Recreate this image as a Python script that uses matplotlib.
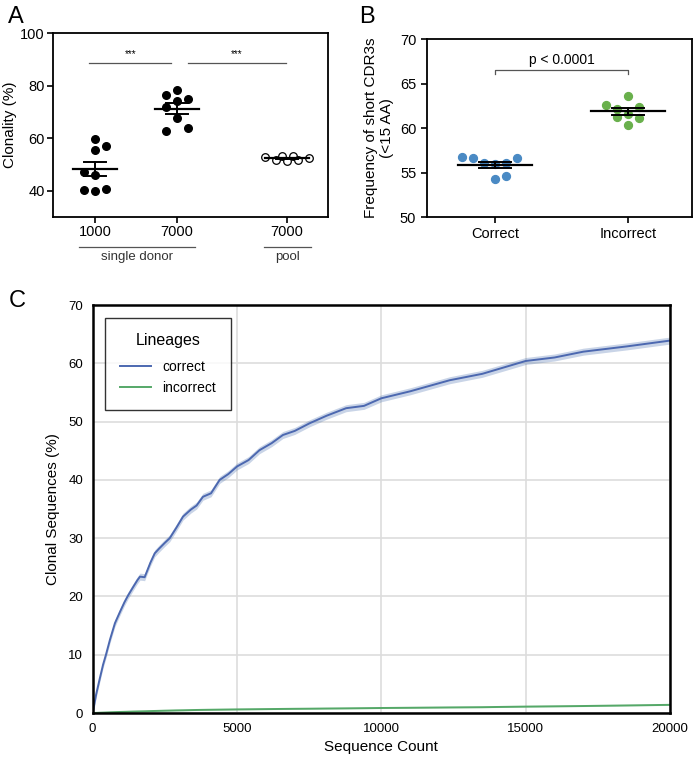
"""
Clonality panels (A, B) and lineage saturation curve (C)
"""
import matplotlib
matplotlib.use('Agg')
import matplotlib.pyplot as plt
import numpy as np

plt.rcParams['font.family'] = ['Liberation Sans', 'DejaVu Sans']

# ---- Panel A data: clonality (%) ----
a_tick_labels = ['1000', '7000', '7000']
a_single_1000 = [59.8, 55.6, 56.9, 47.1, 45.9, 40.4, 40.0, 40.6]
a_single_7000 = [76.4, 78.3, 75.1, 71.7, 74.2, 67.8, 62.7, 64.0]
a_pool_7000 = [52.8, 51.6, 53.1, 51.3, 53.2, 51.7, 52.6]
a_sem = [2.8, 2.0, 0.3]

# ---- Panel B data: frequency of short CDR3s ----
b_categories = ['Correct', 'Incorrect']
b_correct = [56.7, 56.6, 56.1, 56.0, 56.1, 56.6, 54.3, 54.6]
b_incorrect = [62.6, 62.2, 63.6, 62.4, 61.2, 61.6, 61.1, 60.3]
b_sem = [0.35, 0.38]

# ---- Panel C data: clonal sequences (%) vs sequence count ----
c_count = [0, 120, 250, 360, 460, 600, 770, 950, 1100, 1230, 1400, 1550, 1640,
           1800, 2000, 2150, 2300, 2500, 2670, 2900, 3130, 3400, 3600, 3820,
           4100, 4400, 4700, 5000, 5400, 5780, 6200, 6590, 7000, 7510, 8100,
           8780, 9400, 10000, 11000, 12370, 13500, 15000, 16000, 17000, 18500,
           20000]
c_correct = [0.0, 3.2, 6.0, 8.3, 10.0, 12.6, 15.4, 17.4, 19.0, 20.2, 21.6, 22.8,
             23.4, 23.3, 25.8, 27.4, 28.2, 29.2, 30.0, 31.8, 33.7, 34.9, 35.6,
             37.1, 37.7, 40.0, 41.0, 42.3, 43.4, 45.1, 46.3, 47.7, 48.4, 49.7,
             51.0, 52.3, 52.7, 54.0, 55.2, 57.1, 58.2, 60.4, 61.0, 62.0, 62.9,
             63.9]
c_incorrect = [0.0, 0.02, 0.05, 0.07, 0.09, 0.12, 0.15, 0.18, 0.2, 0.22, 0.25,
               0.27, 0.28, 0.3, 0.33, 0.35, 0.37, 0.4, 0.42, 0.45, 0.47, 0.5,
               0.52, 0.54, 0.56, 0.58, 0.6, 0.62, 0.64, 0.66, 0.68, 0.7, 0.72,
               0.74, 0.77, 0.8, 0.83, 0.86, 0.9, 0.96, 1.0, 1.1, 1.15, 1.2,
               1.3, 1.4]
c_band = 0.6

fig = plt.figure(figsize=(7, 7.59), dpi=100)

# ---------------- Panel A ----------------
axA = fig.add_axes([0.0757, 0.714, 0.393, 0.2424])
a_pos = [0, 1, 2.34]
a_groups = [a_single_1000, a_single_7000, a_pool_7000]
a_offsets = [
    [0, 0, 0.134, -0.134, 0, -0.134, 0, 0.134],
    [-0.134, 0, 0.134, -0.134, 0, 0, -0.134, 0.134],
    [-0.268, -0.134, -0.067, 0, 0.067, 0.134, 0.268],
]
for i, (pos, vals, offs) in enumerate(zip(a_pos, a_groups, a_offsets)):
    xs = np.array(offs) + pos
    if i < 2:
        axA.scatter(xs, vals, s=30, color='black', zorder=3)
    else:
        axA.scatter(xs, vals, s=30, facecolor='white', edgecolor='black',
                    linewidth=0.9, zorder=3)
    m = np.mean(vals)
    axA.plot([pos - 0.27, pos + 0.27], [m, m], color='black', lw=1.6, zorder=4)
    for e in (m - a_sem[i], m + a_sem[i]):
        axA.plot([pos - 0.13, pos + 0.13], [e, e], color='black', lw=1.4, zorder=4)
    axA.plot([pos, pos], [m - a_sem[i], m + a_sem[i]], color='black', lw=1.4, zorder=4)

# significance lines
axA.plot([-0.07, 0.93], [88.8, 88.8], color='#555555', lw=0.9)
axA.plot([1.13, 2.33], [88.8, 88.8], color='#555555', lw=0.9)
axA.text(0.43, 90.0, '***', ha='center', va='bottom', fontsize=7)
axA.text(1.73, 90.0, '***', ha='center', va='bottom', fontsize=7)

axA.set_xlim(-0.512, 2.84)
axA.set_ylim(30, 100)
axA.set_yticks([40, 60, 80, 100])
axA.set_xticks(a_pos)
axA.set_xticklabels(a_tick_labels)
axA.set_ylabel('Clonality (%)', fontsize=11, labelpad=2)
axA.tick_params(labelsize=10.5, width=1.2, length=4, pad=2)
for sp in axA.spines.values():
    sp.set_linewidth(1.3)

# group labels beneath the axis
axA.plot([-0.2, 1.22], [18.6, 18.6], color='#555555', lw=0.9, clip_on=False)
axA.text(0.51, 17.0, 'single donor', ha='center', va='top', fontsize=9.5,
         color='#333333')
axA.plot([2.06, 2.63], [18.6, 18.6], color='#555555', lw=0.9, clip_on=False)
axA.text(2.34, 17.0, 'pool', ha='center', va='top', fontsize=9.5, color='#333333')

# ---------------- Panel B ----------------
axB = fig.add_axes([0.6096, 0.714, 0.3786, 0.2345])
b_groups = [b_correct, b_incorrect]
b_colors = ['#4a8ac4', '#69b04c']
b_offsets = [
    [-0.248, -0.165, -0.083, 0, 0.083, 0.165, 0, 0.083],
    [-0.165, -0.083, 0, 0.083, -0.083, 0, 0.083, 0],
]
for i, (vals, offs, col) in enumerate(zip(b_groups, b_offsets, b_colors)):
    xs = np.array(offs) + i
    axB.scatter(xs, vals, s=32, color=col, zorder=3)
    m = np.mean(vals)
    axB.plot([i - 0.28, i + 0.28], [m, m], color='black', lw=1.6, zorder=4)
    for e in (m - b_sem[i], m + b_sem[i]):
        axB.plot([i - 0.12, i + 0.12], [e, e], color='black', lw=1.4, zorder=4)
    axB.plot([i, i], [m - b_sem[i], m + b_sem[i]], color='black', lw=1.4, zorder=4)

axB.plot([0, 0, 1, 1], [66.1, 66.5, 66.5, 66.1], color='#555555', lw=0.9)
axB.text(0.5, 66.9, 'p < 0.0001', ha='center', va='bottom', fontsize=10)

axB.set_xlim(-0.513, 1.48)
axB.set_ylim(50, 70)
axB.set_yticks([50, 55, 60, 65, 70])
axB.set_xticks([0, 1])
axB.set_xticklabels(b_categories)
axB.set_ylabel('Frequency of short CDR3s\n(<15 AA)', fontsize=11)
axB.tick_params(labelsize=10.5, width=1.2, length=4)
for sp in axB.spines.values():
    sp.set_linewidth(1.3)

# ---------------- Panel C ----------------
axC = fig.add_axes([0.1324, 0.0606, 0.8247, 0.5375])
cx = np.array(c_count)
cy = np.array(c_correct)
axC.fill_between(cx, cy - c_band, cy + c_band, color='#4c72b0', alpha=0.3, lw=0)
axC.plot(cx, cy, color='#4c68b0', lw=1.4, label='correct')
gy = np.array(c_incorrect)
axC.fill_between(cx, gy - 0.1, gy + 0.1, color='#55a868', alpha=0.3, lw=0)
axC.plot(cx, gy, color='#55a868', lw=1.4, label='incorrect')

axC.set_xlim(0, 20000)
axC.set_ylim(0, 70)
axC.set_xticks([0, 5000, 10000, 15000, 20000])
axC.set_yticks(range(0, 71, 10))
axC.grid(True, color='#dddddd', lw=1.2)
axC.set_axisbelow(True)
axC.tick_params(length=0, labelsize=9.5, pad=7)
for sp in axC.spines.values():
    sp.set_linewidth(1.8)
axC.set_xlabel('Sequence Count', fontsize=11, labelpad=4)
axC.set_ylabel('Clonal Sequences (%)', fontsize=11, labelpad=6)
leg = axC.legend(title='Lineages', loc='upper left', fontsize=10,
                 title_fontsize=11.5, fancybox=False, edgecolor='black',
                 borderpad=1.1, handlelength=2.2, labelspacing=0.45,
                 borderaxespad=0.9, handletextpad=0.8)
leg.get_frame().set_linewidth(1.0)
leg._legend_box.sep = 9

fig.text(0.012, 0.978, 'A', fontsize=17, va='center')
fig.text(0.513, 0.978, 'B', fontsize=17, va='center')
fig.text(0.012, 0.603, 'C', fontsize=17, va='center')

plt.savefig('out.png', dpi=100, facecolor='white')
plt.close()
